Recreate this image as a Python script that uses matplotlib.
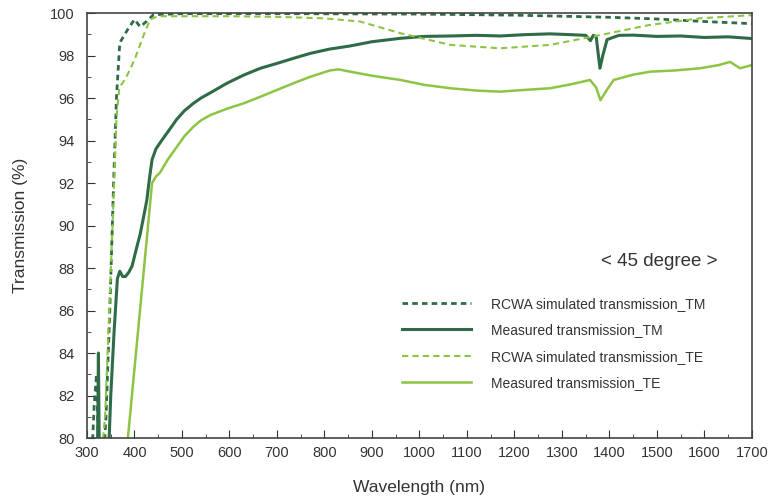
import matplotlib.pyplot as plt
from matplotlib.ticker import MultipleLocator

plt.rcParams['font.family'] = ['Liberation Sans', 'DejaVu Sans']

# RCWA simulated, TM
wl_tm_sim = [310, 315, 320, 325, 335, 340, 348, 356, 362, 369, 385, 400, 412, 425, 440,
             500, 700, 1000, 1200, 1300, 1400, 1500, 1600, 1700]
t_tm_sim = [79, 81.5, 83, 79, 79, 81, 86, 92, 96, 98.6, 99.2, 99.7, 99.35, 99.6, 99.92,
            99.97, 99.97, 99.95, 99.9, 99.85, 99.8, 99.72, 99.6, 99.5]

# measured, TM
wl_tm_meas = [322, 324, 326, 345, 350, 357, 364, 369, 375, 381, 388, 395, 405, 412, 420,
              426, 432, 437, 445, 454, 470, 489, 505, 524, 540, 560, 595, 630, 665, 700,
              735, 770, 810, 854, 900, 960, 1010, 1065, 1120, 1170, 1220, 1275, 1320,
              1350, 1360, 1366, 1372, 1380, 1386, 1395, 1420, 1451, 1500, 1550, 1600,
              1650, 1700]
t_tm_meas = [79, 84, 79, 79, 82, 85, 87.5, 87.85, 87.6, 87.6, 87.8, 88.1, 89, 89.6, 90.5,
             91.2, 92.3, 93.1, 93.6, 93.9, 94.4, 95.0, 95.4, 95.75, 96.0, 96.25, 96.7,
             97.08, 97.4, 97.63, 97.87, 98.1, 98.3, 98.45, 98.65, 98.81, 98.9, 98.92,
             98.95, 98.92, 98.98, 99.02, 98.98, 98.95, 98.7, 98.95, 98.9, 97.4, 98.0,
             98.75, 98.95, 98.96, 98.9, 98.92, 98.85, 98.88, 98.8]

# RCWA simulated, TE
wl_te_sim = [330, 338, 345, 352, 358, 362, 368, 381, 400, 420, 433, 450, 500, 600, 700,
             800, 875, 960, 1065, 1170, 1275, 1380, 1485, 1590, 1700]
t_te_sim = [79, 81, 85, 89, 92.5, 95, 96.5, 96.9, 97.8, 99, 99.7, 99.85, 99.85, 99.85,
            99.82, 99.75, 99.6, 99.05, 98.5, 98.34, 98.5, 98.96, 99.44, 99.75, 99.9]

# measured, TE
wl_te_meas = [384, 437, 445, 454, 470, 489, 505, 524, 540, 560, 595, 630, 665, 700, 735,
              770, 812, 830, 854, 900, 960, 1010, 1065, 1120, 1170, 1220, 1275, 1320,
              1359, 1372, 1381, 1395, 1409, 1450, 1486, 1540, 1591, 1630, 1654, 1675, 1700]
t_te_meas = [79.5, 92, 92.3, 92.5, 93.1, 93.7, 94.2, 94.65, 94.95, 95.2, 95.5, 95.75,
             96.06, 96.38, 96.7, 97.0, 97.3, 97.35, 97.24, 97.05, 96.85, 96.62, 96.46,
             96.35, 96.3, 96.38, 96.46, 96.65, 96.85, 96.5, 95.9, 96.4, 96.85, 97.1,
             97.24, 97.3, 97.4, 97.55, 97.7, 97.4, 97.55]

dark = '#2e6b46'
light = '#8cc443'

fig = plt.figure(figsize=(7.72, 5.01), dpi=100)
ax = fig.add_axes([0.1127, 0.1257, 0.8613, 0.8483])

ax.plot(wl_tm_sim, t_tm_sim, color=dark, lw=2, ls=(0, (2, 1.5)), label='RCWA simulated transmission_TM')
ax.plot(wl_tm_meas, t_tm_meas, color=dark, lw=2.2, label='Measured transmission_TM')
ax.plot(wl_te_sim, t_te_sim, color=light, lw=1.5, ls=(0, (3, 2)), label='RCWA simulated transmission_TE')
ax.plot(wl_te_meas, t_te_meas, color=light, lw=1.8, label='Measured transmission_TE')

ax.set_xlim(300, 1700)
ax.set_ylim(80, 100)
ax.xaxis.set_major_locator(MultipleLocator(100))
ax.xaxis.set_minor_locator(MultipleLocator(50))
ax.yaxis.set_major_locator(MultipleLocator(2))
ax.yaxis.set_minor_locator(MultipleLocator(1))
ax.tick_params(which='both', direction='in', colors='#333333', labelcolor='#333333', labelsize=10.5)
ax.tick_params(which='major', length=6)
ax.tick_params(which='minor', length=3)
ax.tick_params(axis='x', which='major', pad=6)
ax.tick_params(axis='y', which='major', pad=9)
for s in ax.spines.values():
    s.set_color('#444444')
    s.set_linewidth(1.2)

ax.set_xlabel('Wavelength (nm)', fontsize=12.5, color='#333333', labelpad=14)
ax.set_ylabel('Transmission (%)', fontsize=12.5, color='#333333', labelpad=16)

ax.text(0.86, 0.415, '< 45 degree >', transform=ax.transAxes, fontsize=13.5,
        color='#333333', ha='center', va='center')

ax.legend(loc='upper left', bbox_to_anchor=(0.455, 0.362), frameon=False, fontsize=10,
          handlelength=5.0, handletextpad=1.4, labelspacing=0.9, labelcolor='#333333')

fig.savefig('out.png', dpi=100)
